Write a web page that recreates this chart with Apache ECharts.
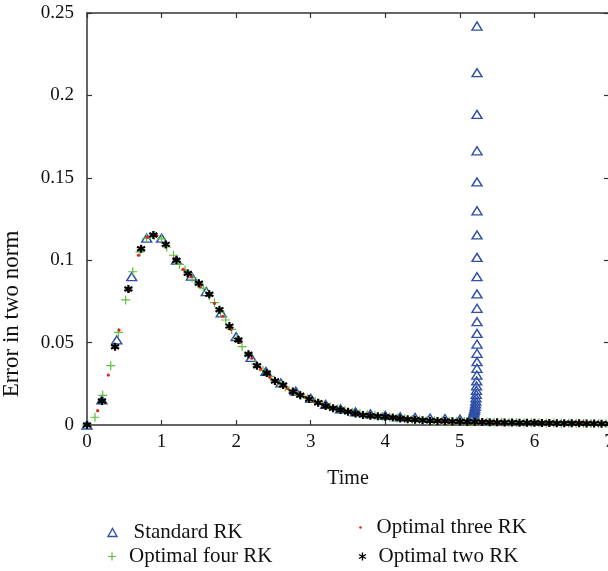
<!DOCTYPE html>
<html>
<head>
<meta charset="utf-8">
<script src="https://cdn.jsdelivr.net/npm/echarts@6/dist/echarts.min.js"></script>
<style>html,body{margin:0;padding:0;background:#fff}#c{width:608px;height:571px}</style>
</head>
<body>
<div id="c"></div>
<script>
// ---- data ----
const xTicks = [0, 1, 2, 3, 4, 5, 6, 7];
const yTicks = [0, 0.05, 0.1, 0.15, 0.2, 0.25];

const stdT = [0, 0.2, 0.4, 0.6, 0.8, 1.0, 1.2, 1.4, 1.6, 1.8, 2.0, 2.2, 2.4, 2.6, 2.8, 3.0, 3.2, 3.4, 3.6, 3.8, 4.0, 4.2, 4.4, 4.6, 4.8, 5.0,
  5.16, 5.165, 5.17, 5.175, 5.18, 5.185, 5.19, 5.195, 5.2, 5.205, 5.21, 5.213, 5.216, 5.219, 5.222, 5.224, 5.226, 5.228, 5.229, 5.23, 5.23, 5.23, 5.23, 5.23, 5.23, 5.23, 5.23, 5.23, 5.23, 5.23, 5.23, 5.23, 5.23];
const stdV = [0, 0.0152, 0.0516, 0.090, 0.1134, 0.1134, 0.100, 0.0904, 0.081, 0.068, 0.0536, 0.041, 0.0325, 0.0255, 0.0205, 0.0162, 0.0125, 0.0098, 0.0080, 0.0068, 0.0058, 0.0050, 0.0046, 0.0042, 0.0039, 0.0036,
  0.0038, 0.0043, 0.0049, 0.0055, 0.0062, 0.0070, 0.0079, 0.0089, 0.0100, 0.0113, 0.0128, 0.0145, 0.0164, 0.0186, 0.0210, 0.0237, 0.0267, 0.0303, 0.0344, 0.0384, 0.0435, 0.0491, 0.0556, 0.0627, 0.0708, 0.0795, 0.0900, 0.1017, 0.1153, 0.1300, 0.1475, 0.1664, 0.1885];
const stdTopT = [5.23, 5.23];
const stdTopV = [0.2138, 0.2421];

const fourT = [0, 0.107, 0.21, 0.318, 0.42, 0.518, 0.613, 0.71, 0.8, 0.9, 1.0, 1.07, 1.16, 1.24, 1.315, 1.41, 1.49, 1.56, 1.64, 1.71, 1.79, 1.86, 1.94, 2.01, 2.08, 2.17, 2.26, 2.36, 2.46, 2.56, 2.66, 2.76, 2.86, 2.96, 3.06, 3.16, 3.26, 3.36, 3.46, 3.56, 3.66, 3.76, 3.86, 3.96, 4.06, 4.16, 4.26, 4.36, 4.46, 4.56, 4.66, 4.76, 4.86, 4.96, 5.06, 5.16, 5.26, 5.36, 5.46, 5.56, 5.66, 5.76, 5.86, 5.96, 6.06, 6.16, 6.26, 6.36, 6.46, 6.56, 6.66, 6.76, 6.86, 6.96];
const fourV = [0, 0.0047, 0.018, 0.036, 0.0562, 0.0759, 0.093, 0.105, 0.1133, 0.1150, 0.1130, 0.1080, 0.103, 0.0975, 0.094, 0.0894, 0.086, 0.083, 0.0785, 0.0742, 0.0685, 0.0637, 0.058, 0.0525, 0.0475, 0.0425, 0.037, 0.0330, 0.0295, 0.0260, 0.0230, 0.0205, 0.0182, 0.0162, 0.0142, 0.0125, 0.0110, 0.0098, 0.0088, 0.0078, 0.0070, 0.0062, 0.0057, 0.0052, 0.0047, 0.0042, 0.0038, 0.0034, 0.0031, 0.0028, 0.0026, 0.0025, 0.0023, 0.0022, 0.0021, 0.0020, 0.0019, 0.0018, 0.0017, 0.0016, 0.0015, 0.0015, 0.0014, 0.0013, 0.0013, 0.0012, 0.0012, 0.0011, 0.0011, 0.0010, 0.0010, 0.0009, 0.0009, 0.0008];

const threeT = [0, 0.143, 0.286, 0.43, 0.56, 0.69, 0.81, 0.935, 1.05, 1.17, 1.29, 1.4, 1.52, 1.62, 1.71, 1.82, 1.93, 2.05, 2.21, 2.33, 2.45, 2.57, 2.69, 2.81, 2.93, 3.05, 3.17, 3.29, 3.41, 3.53, 3.65, 3.77, 3.89, 4.01, 4.13, 4.25, 4.37, 4.49, 4.61, 4.73, 4.85, 4.97, 5.09, 5.21, 5.33, 5.45, 5.57, 5.69, 5.81, 5.93, 6.05, 6.17, 6.29, 6.41, 6.53, 6.65, 6.77, 6.89];
const threeV = [0, 0.0087, 0.0303, 0.0576, 0.081, 0.103, 0.1139, 0.1149, 0.109, 0.101, 0.0945, 0.090, 0.084, 0.079, 0.0738, 0.066, 0.058, 0.050, 0.0405, 0.034, 0.029, 0.0255, 0.022, 0.0195, 0.017, 0.0145, 0.0125, 0.0108, 0.0094, 0.0082, 0.0072, 0.0063, 0.0056, 0.0050, 0.0045, 0.0040, 0.0036, 0.0032, 0.0029, 0.0027, 0.0025, 0.0023, 0.0021, 0.0020, 0.0019, 0.0018, 0.0017, 0.0016, 0.0015, 0.0014, 0.0013, 0.0013, 0.0012, 0.0011, 0.0011, 0.0010, 0.0009, 0.0009];

const twoT = [0, 0.2, 0.376, 0.555, 0.725, 0.89, 1.056, 1.2, 1.35, 1.5, 1.64, 1.776, 1.91, 2.03, 2.165, 2.28, 2.41, 2.52, 2.63, 2.76, 2.86, 2.98, 3.1, 3.2, 3.3, 3.4, 3.5, 3.6, 3.7, 3.8, 3.9, 4.0, 4.1, 4.2, 4.3, 4.4, 4.5, 4.6, 4.7, 4.8, 4.9, 5.0, 5.1, 5.2, 5.3, 5.4, 5.5, 5.6, 5.7, 5.8, 5.9, 6.0, 6.1, 6.2, 6.3, 6.4, 6.5, 6.6, 6.7, 6.8, 6.9, 7.0];
const twoV = [0, 0.0146, 0.0475, 0.0825, 0.107, 0.1153, 0.1096, 0.100, 0.092, 0.086, 0.0793, 0.070, 0.060, 0.0516, 0.0429, 0.036, 0.0315, 0.0267, 0.0243, 0.0202, 0.018, 0.0158, 0.0135, 0.0115, 0.0102, 0.0091, 0.0081, 0.0070, 0.0060, 0.0056, 0.0053, 0.0050, 0.0046, 0.0040, 0.0035, 0.0032, 0.0029, 0.0026, 0.0025, 0.0024, 0.0022, 0.0021, 0.0020, 0.0019, 0.0018, 0.0017, 0.0016, 0.0015, 0.0015, 0.0014, 0.0013, 0.0013, 0.0012, 0.0012, 0.0011, 0.0011, 0.0010, 0.0010, 0.0009, 0.0009, 0.0008, 0.0008];

const names = ['Standard RK', 'Optimal four RK', 'Optimal three RK', 'Optimal two RK'];
// ---------------------------------------

function pairs(t, v) { return t.map((x, i) => [x, v[i]]); }

const FONT = 'Liberation Serif';
const BLUE = '#2f4fa8', GREEN = '#5fbf3f', RED = '#e52222', BLACK = '#000';
const PLUS = 'path://M0,5L10,5M5,0L5,10';
const STAR = 'path://M5,0L5,10M0.67,2.5L9.33,7.5M0.67,7.5L9.33,2.5';
const DOT = 'path://M0,0M10,10M5,3.4A1.6,1.6,0,1,1,5,6.6A1.6,1.6,0,1,1,5,3.4Z';

const axisLine = { show: true, onZero: false, lineStyle: { color: '#333', width: 1.5 } };
const tick = { show: true, inside: true, length: 5, lineStyle: { color: '#333', width: 1.2 } };
const lbl = { fontFamily: FONT, fontSize: 19, color: '#111' };

const legendIcons = [
  { icon: 'triangle', itemStyle: { color: 'none', borderColor: BLUE, borderWidth: 1.4 } },
  { icon: PLUS, itemStyle: { color: 'none', borderColor: GREEN, borderWidth: 1.2 } },
  { icon: DOT, itemStyle: { color: RED, borderWidth: 0 } },
  { icon: STAR, itemStyle: { color: 'none', borderColor: BLACK, borderWidth: 1.4 } }
];
const legendPos = [
  { left: 105.5, top: 522, pad: 11.5 },
  { left: 105.5, top: 546, pad: 7.5 },
  { left: 356.5, top: 517, pad: 6.5 },
  { left: 356.5, top: 546, pad: 6.5 }
];
const legends = names.map((n, i) => ({
  data: [Object.assign({ name: n }, legendIcons[i])],
  orient: 'horizontal', left: legendPos[i].left, top: legendPos[i].top, padding: 0,
  itemWidth: 9, itemHeight: 8, selectedMode: false,
  textStyle: { fontFamily: FONT, fontSize: 21, color: '#111', lineHeight: 21, padding: [0, 0, 0, legendPos[i].pad] }
}));

const chart = echarts.init(document.getElementById('c'), null, { renderer: 'canvas' });
chart.setOption({
  animation: false,
  backgroundColor: '#fff',
  grid: { left: 87, top: 13, right: -1, bottom: 146, containLabel: false, outerBoundsMode: 'none' },
  xAxis: [
    { type: 'value', min: 0, max: 7, interval: 1, position: 'bottom', axisLine, axisTick: tick,
      splitLine: { show: false }, axisLabel: Object.assign({ margin: 8, showMaxLabel: true }, lbl),
      name: 'Time', nameLocation: 'middle', nameGap: 44,
      nameTextStyle: { fontFamily: FONT, fontSize: 20, color: '#111' } },
    { type: 'value', min: 0, max: 7, interval: 1, position: 'top', axisLine, axisTick: tick,
      splitLine: { show: false }, axisLabel: { show: false } }
  ],
  yAxis: [
    { type: 'value', min: 0, max: 0.25, interval: 0.05, position: 'left', axisLine, axisTick: tick,
      splitLine: { show: false }, axisLabel: Object.assign({ margin: 13 }, lbl) },
    { type: 'value', min: 0, max: 0.25, interval: 0.05, position: 'right', axisLine, axisTick: tick,
      splitLine: { show: false }, axisLabel: { show: false } }
  ],
  graphic: [{
    type: 'text', x: 12, y: 314, rotation: Math.PI / 2,
    style: { text: 'Error in two norm', fontFamily: FONT, fontSize: 23, fill: '#111', align: 'center', verticalAlign: 'middle' }
  }],
  legend: legends,
  series: [
    { name: names[0], type: 'scatter', symbol: 'triangle', symbolSize: [10, 8],
      itemStyle: { color: 'none', borderColor: BLUE, borderWidth: 1.4, opacity: 1 },
      data: pairs(stdT, stdV).concat(pairs(stdTopT, stdTopV)), silent: true },
    { name: names[1], type: 'scatter', symbol: PLUS, symbolSize: 9,
      itemStyle: { color: 'none', borderColor: GREEN, borderWidth: 1.2, opacity: 1 },
      data: pairs(fourT, fourV), silent: true },
    { name: names[2], type: 'scatter', symbol: 'circle', symbolSize: 3.2,
      itemStyle: { color: RED, opacity: 1 },
      data: pairs(threeT, threeV), silent: true },
    { name: names[3], type: 'scatter', symbol: STAR, symbolSize: 8,
      itemStyle: { color: 'none', borderColor: BLACK, borderWidth: 2.2, opacity: 1 },
      data: pairs(twoT, twoV), silent: true }
  ]
});
</script>
</body>
</html>
